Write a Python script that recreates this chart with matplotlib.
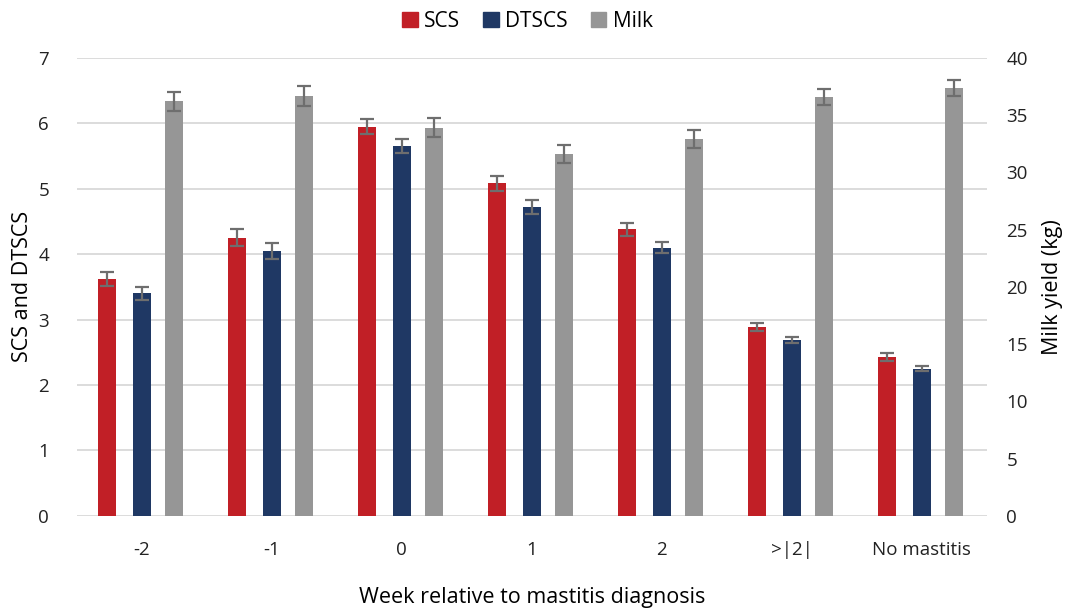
import matplotlib.pyplot as plt
import numpy as np
from matplotlib.patches import Patch

plt.rcParams["font.family"] = ["Open Sans", "DejaVu Sans"]

weeks = ["-2", "-1", "0", "1", "2", ">|2|", "No mastitis"]
scs = [3.62, 4.25, 5.95, 5.08, 4.38, 2.89, 2.43]
scs_err = [0.11, 0.13, 0.11, 0.11, 0.10, 0.06, 0.06]
dtscs = [3.40, 4.05, 5.65, 4.72, 4.10, 2.69, 2.25]
dtscs_err = [0.10, 0.12, 0.11, 0.10, 0.09, 0.05, 0.04]
milk = [36.2, 36.7, 33.9, 31.6, 32.9, 36.6, 37.4]
milk_err = [0.8, 0.87, 0.81, 0.81, 0.79, 0.7, 0.7]

c_scs = "#C11F26"
c_dts = "#1F3864"
c_milk = "#969696"
c_err = "#6E6E6E"

fig = plt.figure(figsize=(10.68, 6.09), dpi=100)
ax = fig.add_axes([0.072, 0.153, 0.852, 0.752])
ax2 = ax.twinx()

x = np.arange(len(weeks))
w = 0.14
ekw = dict(ecolor=c_err, elinewidth=1.6, capsize=5, capthick=1.6)

ax.bar(x - 0.27, scs, w, yerr=scs_err, color=c_scs, error_kw=ekw, zorder=3)
ax.bar(x, dtscs, w, yerr=dtscs_err, color=c_dts, error_kw=ekw, zorder=3)
ax2.bar(x + 0.25, milk, w, yerr=milk_err, color=c_milk, error_kw=ekw, zorder=3)

ax.set_xlim(-0.5, len(weeks) - 0.5)
ax.set_ylim(0, 7)
ax2.set_ylim(0, 40)
ax.set_yticks(range(0, 8))
ax2.set_yticks(range(0, 41, 5))
ax.set_xticks(x)
ax.set_xticklabels(weeks)

ax.grid(True, axis="y", color="#D9D9D9", linewidth=1.3, zorder=0)
ax.set_axisbelow(True)
for a in (ax, ax2):
    for s in a.spines.values():
        s.set_visible(False)
    a.tick_params(length=0, labelsize=13.5, colors="#222222")
ax.tick_params(axis="x", pad=18)
ax.tick_params(axis="y", pad=20)
ax2.tick_params(axis="y", pad=14)

ax.set_ylabel("SCS and DTSCS", fontsize=15.5, labelpad=4)
ax2.set_ylabel("Milk yield (kg)", fontsize=15.5, labelpad=10)
ax.set_xlabel("Week relative to mastitis diagnosis", fontsize=15.5, labelpad=20)

handles = [Patch(color=c_scs), Patch(color=c_dts), Patch(color=c_milk)]
fig.legend(handles, ["SCS", "DTSCS", "Milk"], loc="center", bbox_to_anchor=(0.494, 0.965),
           ncol=3, frameon=False, fontsize=15, handlelength=0.75, handleheight=0.75,
           handletextpad=0.3, columnspacing=1.1)

fig.savefig("out.png", dpi=100)
